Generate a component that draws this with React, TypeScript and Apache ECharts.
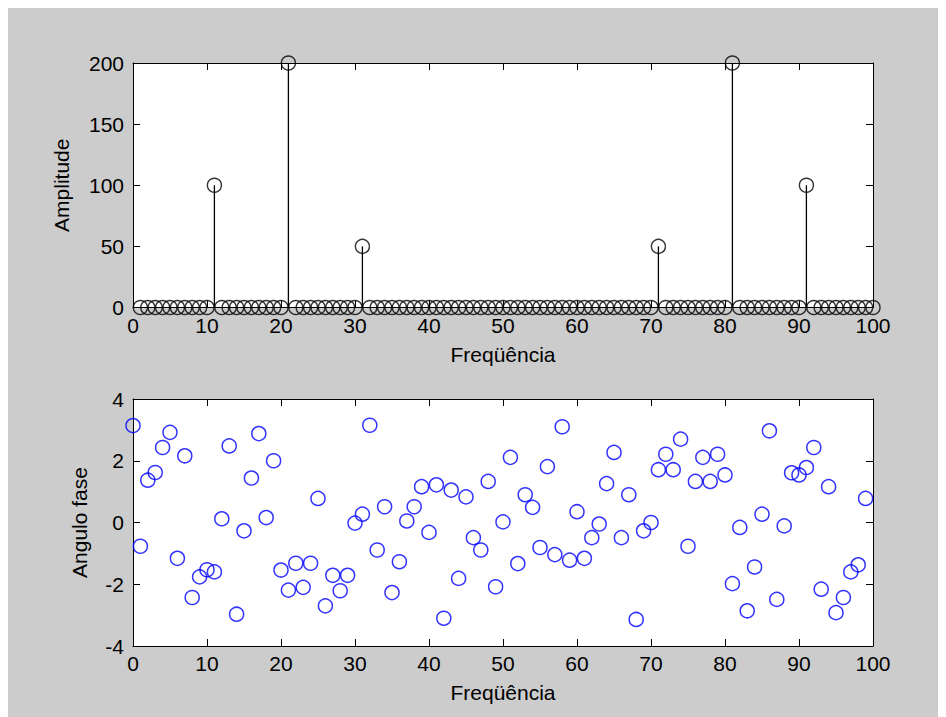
import React, { useEffect, useRef } from "react";
import * as echarts from "echarts";

// Top plot: amplitude spectrum at frequency indices 1..100
const ampFreq = [
  1, 2, 3, 4, 5, 6, 7, 8, 9, 10,
  11, 12, 13, 14, 15, 16, 17, 18, 19, 20,
  21, 22, 23, 24, 25, 26, 27, 28, 29, 30,
  31, 32, 33, 34, 35, 36, 37, 38, 39, 40,
  41, 42, 43, 44, 45, 46, 47, 48, 49, 50,
  51, 52, 53, 54, 55, 56, 57, 58, 59, 60,
  61, 62, 63, 64, 65, 66, 67, 68, 69, 70,
  71, 72, 73, 74, 75, 76, 77, 78, 79, 80,
  81, 82, 83, 84, 85, 86, 87, 88, 89, 90,
  91, 92, 93, 94, 95, 96, 97, 98, 99, 100,
];
const amplitude = [
  0, 0, 0, 0, 0, 0, 0, 0, 0, 0,
  100, 0, 0, 0, 0, 0, 0, 0, 0, 0,
  200, 0, 0, 0, 0, 0, 0, 0, 0, 0,
  50, 0, 0, 0, 0, 0, 0, 0, 0, 0,
  0, 0, 0, 0, 0, 0, 0, 0, 0, 0,
  0, 0, 0, 0, 0, 0, 0, 0, 0, 0,
  0, 0, 0, 0, 0, 0, 0, 0, 0, 0,
  50, 0, 0, 0, 0, 0, 0, 0, 0, 0,
  200, 0, 0, 0, 0, 0, 0, 0, 0, 0,
  100, 0, 0, 0, 0, 0, 0, 0, 0, 0,
];

// Bottom plot: phase at frequency indices 0..99
const phaseFreq = [
  0, 1, 2, 3, 4, 5, 6, 7, 8, 9,
  10, 11, 12, 13, 14, 15, 16, 17, 18, 19,
  20, 21, 22, 23, 24, 25, 26, 27, 28, 29,
  30, 31, 32, 33, 34, 35, 36, 37, 38, 39,
  40, 41, 42, 43, 44, 45, 46, 47, 48, 49,
  50, 51, 52, 53, 54, 55, 56, 57, 58, 59,
  60, 61, 62, 63, 64, 65, 66, 67, 68, 69,
  70, 71, 72, 73, 74, 75, 76, 77, 78, 79,
  80, 81, 82, 83, 84, 85, 86, 87, 88, 89,
  90, 91, 92, 93, 94, 95, 96, 97, 98, 99,
];
const phase = [
  3.14, -0.77, 1.37, 1.62, 2.43, 2.92, -1.16, 2.16, -2.43, -1.76,
  -1.53, -1.6, 0.12, 2.48, -2.97, -0.27, 1.44, 2.88, 0.16, 2.0,
  -1.54, -2.19, -1.32, -2.1, -1.32, 0.78, -2.7, -1.71, -2.21, -1.71,
  -0.02, 0.27, 3.15, -0.89, 0.51, -2.27, -1.27, 0.05, 0.51, 1.16,
  -0.32, 1.22, -3.1, 1.05, -1.81, 0.83, -0.49, -0.89, 1.33, -2.08,
  0.02, 2.11, -1.33, 0.9, 0.49, -0.81, 1.81, -1.04, 3.1, -1.22,
  0.35, -1.16, -0.49, -0.05, 1.26, 2.27, -0.49, 0.9, -3.14, -0.27,
  0.0, 1.71, 2.21, 1.71, 2.7, -0.77, 1.33, 2.11, 1.33, 2.21,
  1.54, -1.98, -0.16, -2.86, -1.44, 0.27, 2.97, -2.49, -0.11, 1.61,
  1.54, 1.78, 2.43, -2.16, 1.16, -2.92, -2.43, -1.6, -1.37, 0.78,
];

const xTitle = "Freqüência";
const ampTitle = "Amplitude";
const phaseTitle = "Angulo fase";

const FONT = "'Liberation Sans', Arial, sans-serif";

export default function App() {
  const ref = useRef<HTMLDivElement>(null);

  useEffect(() => {
    document.documentElement.style.overflow = "hidden";
    if (!ref.current) return;
    const chart = echarts.init(ref.current, undefined, { renderer: "svg" });

    const labelStyle = { color: "#000", fontSize: 21, fontFamily: FONT };
    const lineStyle = { color: "#000", width: 1 };

    const mainX = (grid: number) => ({
      type: "value",
      gridIndex: grid,
      min: 0,
      max: 100,
      interval: 10,
      position: "bottom",
      axisLine: { show: true, onZero: false, lineStyle },
      axisTick: { show: true, inside: true, length: 7, lineStyle },
      axisLabel: { ...labelStyle, margin: 7 },
      splitLine: { show: false },
      name: xTitle,
      nameLocation: "middle",
      nameGap: 36,
      nameTextStyle: { ...labelStyle },
    });
    const topX = (grid: number) => ({
      type: "value",
      gridIndex: grid,
      min: 0,
      max: 100,
      interval: 10,
      position: "top",
      axisLine: { show: true, onZero: false, lineStyle },
      axisTick: { show: true, inside: true, length: 7, lineStyle },
      axisLabel: { show: false },
      splitLine: { show: false },
    });
    const leftY = (grid: number, min: number, max: number, interval: number, name: string, gap: number) => ({
      type: "value",
      gridIndex: grid,
      min,
      max,
      interval,
      position: "left",
      axisLine: { show: true, onZero: false, lineStyle },
      axisTick: { show: true, inside: true, length: 7, lineStyle },
      axisLabel: { ...labelStyle, margin: 9 },
      splitLine: { show: false },
      name,
      nameLocation: "middle",
      nameGap: gap,
      nameTextStyle: { ...labelStyle },
    });
    const rightY = (grid: number, min: number, max: number, interval: number) => ({
      type: "value",
      gridIndex: grid,
      min,
      max,
      interval,
      position: "right",
      axisLine: { show: true, onZero: false, lineStyle },
      axisTick: { show: true, inside: true, length: 7, lineStyle },
      axisLabel: { show: false },
      splitLine: { show: false },
    });

    const ampData = ampFreq.map((f, i) => [f, amplitude[i]]);
    const phaseData = phaseFreq.map((f, i) => [f, phase[i]]);

    chart.setOption({
      animation: false,
      backgroundColor: "#cccccc",
      grid: [
        { left: 125, top: 55, width: 740, height: 244.5, show: true, backgroundColor: "#fff", borderWidth: 0 },
        { left: 125, top: 391, width: 740, height: 247, show: true, backgroundColor: "#fff", borderWidth: 0 },
      ],
      xAxis: [mainX(0), topX(0), mainX(1), topX(1)],
      yAxis: [
        leftY(0, 0, 200, 50, ampTitle, 61),
        rightY(0, 0, 200, 50),
        leftY(1, -4, 4, 2, phaseTitle, 43),
        rightY(1, -4, 4, 2),
      ],
      series: [
        {
          type: "custom",
          xAxisIndex: 0,
          yAxisIndex: 0,
          data: ampData,
          renderItem: (params: any, api: any) => {
            const x = api.value(0);
            const y = api.value(1);
            const p0 = api.coord([x, 0]);
            const p1 = api.coord([x, y]);
            return {
              type: "line",
              shape: { x1: p0[0], y1: p0[1], x2: p1[0], y2: p1[1] },
              style: { stroke: "#000", lineWidth: 1.3 },
            };
          },
          z: 2,
        },
        {
          type: "scatter",
          xAxisIndex: 0,
          yAxisIndex: 0,
          data: ampData,
          symbol: "circle",
          symbolSize: 14,
          itemStyle: { color: "rgba(0,0,0,0)", borderColor: "#000", borderWidth: 1.4 },
          emphasis: { disabled: true },
          z: 3,
        },
        {
          type: "scatter",
          xAxisIndex: 2,
          yAxisIndex: 2,
          data: phaseData,
          symbol: "circle",
          symbolSize: 14,
          itemStyle: { color: "rgba(0,0,0,0)", borderColor: "#0000ff", borderWidth: 1.5 },
          emphasis: { disabled: true },
          z: 3,
        },
      ],
    });

    return () => {
      chart.dispose();
    };
  }, []);

  return <div ref={ref} style={{ width: 938, height: 709 }} />;
}
